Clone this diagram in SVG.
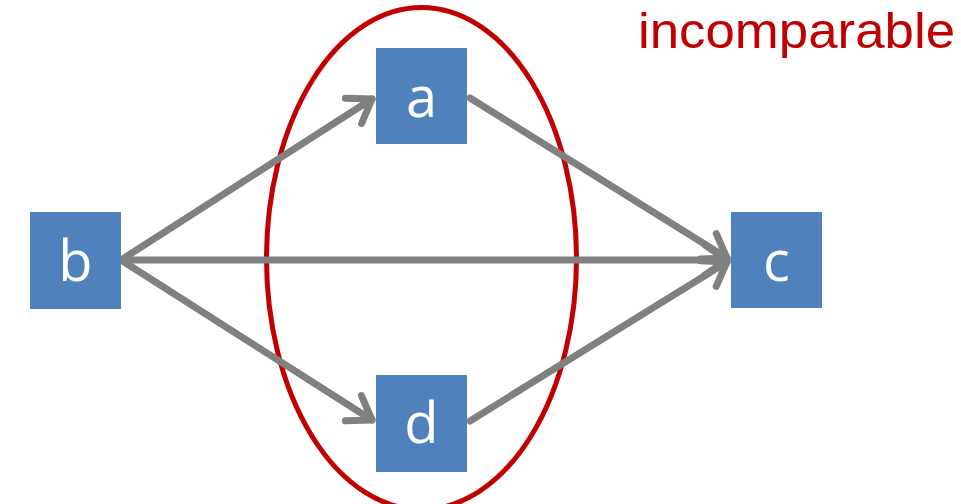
<svg xmlns="http://www.w3.org/2000/svg" width="961" height="504" viewBox="0 0 961 504">
<style>
.box{fill:#4f81bd}
.lbl{fill:#fff;font-family:"Open Sans",sans-serif;font-size:56px;text-anchor:middle}
.edge{stroke:#808080;stroke-width:7;fill:none;stroke-linecap:round}
</style>
<defs>
<marker id="arr" markerUnits="userSpaceOnUse" markerWidth="40" markerHeight="40" viewBox="-30 -20 40 40" refX="0" refY="0" orient="auto">
<path d="M-22,-15 L0,0 L-22,15" fill="none" stroke="#808080" stroke-width="7" stroke-linecap="round" stroke-linejoin="round"/>
</marker>
</defs>
<ellipse cx="421.5" cy="258.5" rx="155" ry="251" fill="none" stroke="#c00000" stroke-width="5"/>
<g id="connectors">
<line class="edge" x1="121" y1="260" x2="372" y2="99" marker-end="url(#arr)"/>
<line class="edge" x1="121" y1="260" x2="372" y2="420" marker-end="url(#arr)"/>
<line class="edge" x1="121" y1="260" x2="727" y2="260" marker-end="url(#arr)"/>
<line class="edge" x1="470" y1="98" x2="727" y2="258" marker-end="url(#arr)"/>
<line class="edge" x1="470" y1="421" x2="727" y2="262" marker-end="url(#arr)"/>
</g>
<g id="node-a"><rect class="box" x="376" y="48" width="91" height="96"/><text class="lbl" x="421.5" y="117">a</text></g>
<g id="node-d"><rect class="box" x="376" y="375" width="91" height="97"/><text class="lbl" x="421.5" y="443">d</text></g>
<g id="node-b"><rect class="box" x="30" y="212" width="91" height="97"/><text class="lbl" x="75.5" y="281">b</text></g>
<g id="node-c"><rect class="box" x="731" y="212" width="91" height="96"/><text class="lbl" x="776.5" y="281">c</text></g>
<text x="638" y="48" font-family="Liberation Sans, Arial, sans-serif" font-size="50" fill="#c00000" textLength="317" lengthAdjust="spacingAndGlyphs">incomparable</text>
</svg>
